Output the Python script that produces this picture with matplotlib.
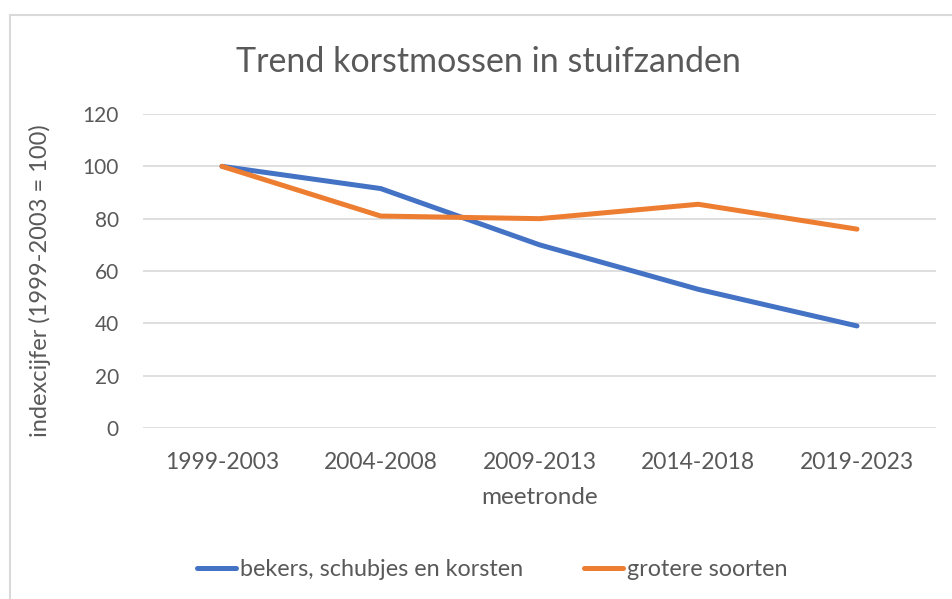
import matplotlib
matplotlib.use("Agg")
import matplotlib.pyplot as plt
from matplotlib.lines import Line2D

plt.rcParams['font.family'] = ['Lato', 'DejaVu Sans']

categories = ["1999-2003", "2004-2008", "2009-2013", "2014-2018", "2019-2023"]
bekers = [100, 91.5, 70, 53, 39]
groter = [100, 81, 80, 85.5, 76]
series_names = ["bekers, schubjes en korsten", "grotere soorten"]
yticks = [0, 20, 40, 60, 80, 100, 120]

W, H = 952, 599
fig = plt.figure(figsize=(W / 100, H / 100), dpi=100)
fig.patch.set_facecolor("white")

# outer chart border (top and left visible)
fig.add_artist(Line2D([10 / W, 10 / W], [0, 1 - 15 / H], color="#D9D9D9", lw=1.5, transform=fig.transFigure))
fig.add_artist(Line2D([10 / W, 1], [1 - 15 / H, 1 - 15 / H], color="#D9D9D9", lw=1.5, transform=fig.transFigure))

left, right = 142.6 / W, 936.4 / W
bottom, top = 1 - 428 / H, 1 - 114 / H
ax = fig.add_axes([left, bottom, right - left, top - bottom])

x = list(range(len(categories)))
blue, orange = "#4472C4", "#ED7D31"
l1, = ax.plot(x, bekers, color=blue, lw=3.6, solid_capstyle="round", solid_joinstyle="round", zorder=3)
l2, = ax.plot(x, groter, color=orange, lw=3.6, solid_capstyle="round", solid_joinstyle="round", zorder=3)

ax.set_xlim(-0.5, len(categories) - 0.5)
ax.set_ylim(0, 120)
ax.set_yticks(yticks)
ax.set_xticks(x)
ax.set_xticklabels(categories)
for s in ax.spines.values():
    s.set_visible(False)
ax.grid(axis="y", color="#D9D9D9", lw=1.2, zorder=0)
ax.tick_params(length=0, colors="#595959")
ax.tick_params(axis="y", labelsize=15, pad=17)
ax.tick_params(axis="x", labelsize=16.5, pad=17)

ax.set_xlabel("meetronde", fontsize=17.5, color="#595959")
ax.xaxis.set_label_coords(0.5, -0.22)
ax.xaxis.label.set_va("center")
ax.set_ylabel("indexcijfer (1999-2003 = 100)", fontsize=17, color="#595959")
ax.yaxis.set_label_coords(-0.129, 0.47)
ax.yaxis.label.set_va("center")

fig.text(488 / W, 1 - 62 / H, "Trend korstmossen in stuifzanden", ha="center", va="center",
         fontsize=24.5, color="#595959")

leg = fig.legend([l1, l2], series_names, loc="center", bbox_to_anchor=(492 / W, 1 - 570 / H),
                 ncol=2, frameon=False, fontsize=16.8, handlelength=1.7, handletextpad=0.15,
                 columnspacing=2.6)
for t in leg.get_texts():
    t.set_color("#595959")

fig.savefig("out.png", dpi=100, facecolor="white")
